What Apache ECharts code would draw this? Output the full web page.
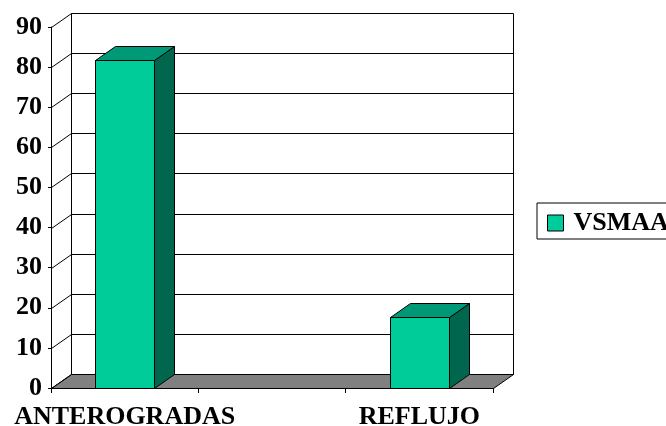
<!DOCTYPE html>
<html>
<head>
<meta charset="utf-8">
<script src="https://cdn.jsdelivr.net/npm/echarts@6/dist/echarts.min.js"></script>
<style>
  html, body { margin: 0; padding: 0; background: #fff; }
  #chart { width: 666px; height: 426px; }
</style>
</head>
<body>
<div id="chart"></div>
<script>
// Chart data
const categories = ['ANTEROGRADAS', '', 'REFLUJO'];
const vsmaaValues = [81.7, null, 17.7];
const seriesName = 'VSMAA';
const yTickValues = [0, 10, 20, 30, 40, 50, 60, 70, 80, 90];

// Oblique depth offset used for the pseudo-3D walls and columns
const DX = 20;
const DY = -14;
const FONT = '"Liberation Serif", "Times New Roman", serif';
const FRONT = '#00CC99';
const TOP = '#009977';
const SIDE = '#00664D';
const LINE = '#000';

function px(v) { return Math.round(v) + 0.5; }

function line(x1, y1, x2, y2) {
  return {
    type: 'line',
    shape: { x1: px(x1), y1: px(y1), x2: px(x2), y2: px(y2) },
    style: { stroke: LINE, lineWidth: 1 }
  };
}

function poly(points, fill) {
  return {
    type: 'polygon',
    shape: { points: points.map(p => [px(p[0]), px(p[1])]) },
    style: { fill: fill, stroke: LINE, lineWidth: 1 }
  };
}

// Back wall, side wall gridlines and floor, one item per tick value
function renderWalls(params, api) {
  const cs = params.coordSys;
  const left = cs.x, right = cs.x + cs.width;
  const top = cs.y, bottom = cs.y + cs.height;
  const v = api.value(1);
  const y = api.coord([0, v])[1];
  const children = [];
  if (params.dataIndex === 0) {
    children.push({
      type: 'rect',
      shape: { x: left + DX, y: top + DY, width: cs.width, height: cs.height },
      style: { fill: '#fff' }
    });
    children.push(poly([
      [left, bottom], [right, bottom], [right + DX, bottom + DY], [left + DX, bottom + DY]
    ], '#808080'));
    children.push(line(left + DX, top + DY, left + DX, bottom + DY));
    children.push(line(right + DX, top + DY, right + DX, bottom + DY));
  }
  children.push(line(left, y, left + DX, y + DY));
  if (v > 0) {
    children.push(line(left + DX, y + DY, right + DX, y + DY));
  }
  return { type: 'group', children: children };
}

// Pseudo-3D columns: front face, top face and right side face
function renderColumns(params, api) {
  const val = api.value(1);
  if (val == null || isNaN(val)) return null;
  const idx = api.value(0);
  const topPt = api.coord([idx, val]);
  const basePt = api.coord([idx, 0]);
  const w = api.size([1, 0])[0] * 0.4;
  const x0 = topPt[0] - w / 2, x1 = topPt[0] + w / 2;
  const yt = topPt[1], yb = basePt[1];
  return {
    type: 'group',
    children: [
      poly([[x1, yt], [x1 + DX, yt + DY], [x1 + DX, yb + DY], [x1, yb]], SIDE),
      poly([[x0, yt], [x1, yt], [x1 + DX, yt + DY], [x0 + DX, yt + DY]], TOP),
      poly([[x0, yt], [x1, yt], [x1, yb], [x0, yb]], FRONT)
    ]
  };
}

const chart = echarts.init(document.getElementById('chart'), null, { renderer: 'canvas' });

chart.setOption({
  backgroundColor: '#fff',
  animation: false,
  grid: { left: 51, right: 173, top: 27, bottom: 38, outerBoundsMode: 'none', containLabel: false },
  legend: {
    data: [{
      name: seriesName,
      icon: 'rect',
      itemStyle: { color: FRONT, borderColor: '#000', borderWidth: 1 }
    }],
    left: 537,
    top: 203,
    orient: 'horizontal',
    itemWidth: 16,
    itemHeight: 16,
    borderColor: '#000',
    borderWidth: 1,
    borderRadius: 0,
    padding: [6, 12, 2, 10],
    selectedMode: false,
    textStyle: {
      fontFamily: FONT,
      fontWeight: 'bold',
      fontSize: 26,
      lineHeight: 28,
      color: '#000',
      padding: [0, 0, 0, 5]
    }
  },
  xAxis: {
    type: 'category',
    data: categories,
    boundaryGap: true,
    axisLine: { show: true, lineStyle: { color: '#000', width: 1 } },
    axisTick: { show: true, length: 5, alignWithLabel: false, lineStyle: { color: '#000' } },
    axisLabel: {
      margin: 16,
      interval: 0,
      fontFamily: FONT,
      fontWeight: 'bold',
      fontSize: 26,
      color: '#000'
    },
    splitLine: { show: false }
  },
  yAxis: {
    type: 'value',
    min: 0,
    max: 90,
    interval: 10,
    axisLine: { show: true, lineStyle: { color: '#000', width: 1 } },
    axisTick: { show: true, length: 3, lineStyle: { color: '#000' } },
    axisLabel: {
      margin: 9,
      fontFamily: FONT,
      fontWeight: 'bold',
      fontSize: 26,
      color: '#000'
    },
    splitLine: { show: false }
  },
  series: [
    {
      name: 'walls',
      type: 'custom',
      clip: false,
      z: 1,
      silent: true,
      renderItem: renderWalls,
      data: yTickValues.map(v => [0, v])
    },
    {
      name: seriesName,
      type: 'custom',
      clip: false,
      z: 3,
      itemStyle: { color: FRONT },
      renderItem: renderColumns,
      data: vsmaaValues.map((v, i) => [i, v == null ? '-' : v])
    }
  ]
});
</script>
</body>
</html>
